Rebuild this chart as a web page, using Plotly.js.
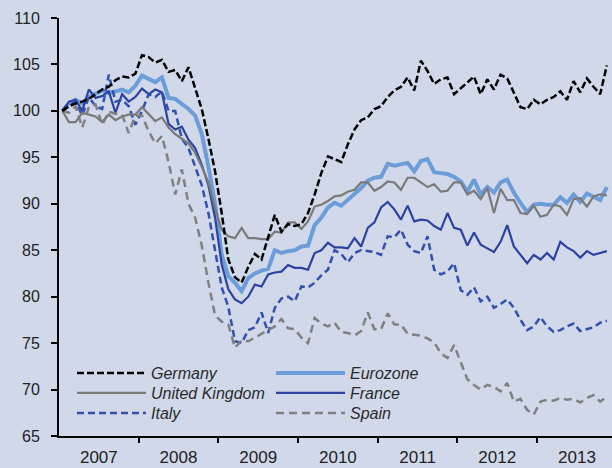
<!DOCTYPE html>
<html>
<head>
<meta charset="utf-8">
<script src="https://cdn.plot.ly/plotly-3.0.1.min.js"></script>
<style>
  html, body { margin: 0; padding: 0; background: #d0d8ea; }
  #chart { width: 612px; height: 468px; }
</style>
</head>
<body>
<div id="chart"></div>
<script>
// Monthly index values, Jan 2007 = 100, from Jan 2007 to Nov 2013
const startYear = 2007;
const yearLabels = ['2007', '2008', '2009', '2010', '2011', '2012', '2013'];
const yTicks = [65, 70, 75, 80, 85, 90, 95, 100, 105, 110];

const germany = [100, 100.5, 100.8, 101, 101.3, 101.8, 102.3, 102.6, 103.3, 103.7, 103.6, 104,
  106, 105.8, 105.2, 105.5, 104.2, 104.4, 103.2, 104.7, 102.5, 100.2, 97, 93.5,
  89, 84, 82.1, 81.5, 83.2, 84.6, 84, 86.5, 88.8, 87, 87.8, 87.6,
  87.8, 89, 91, 93.3, 95.1, 94.8, 94.5, 96.4, 98, 99, 99.3, 100.2,
  100.5, 101.5, 102.2, 102.6, 103.6, 102.2, 105.4, 104.3, 102.9, 103.4, 103.6, 101.8,
  102.4, 103, 103.7, 101.8, 103.4, 102.3, 103.9, 103.5, 102, 100.4, 100.2, 101.2,
  100.7, 101.2, 101.5, 102.1, 101.2, 103.2, 102, 103.5, 102.6, 101.8, 104.9];

const eurozone = [100, 100.8, 101.2, 100.8, 101.5, 101.8, 102.2, 101.9, 102.1, 102.3, 102, 102.7,
  103.8, 103.5, 103.1, 103.6, 101.4, 101.3, 100.8, 100.2, 99.5, 97.5, 94, 90,
  84.5, 82.2, 81.5, 80.6, 82, 82.5, 82.8, 83, 85, 84.7, 84.9, 85,
  85.4, 85.5, 87.7, 88.5, 89.6, 90.1, 89.8, 90.4, 91, 91.7, 92.5, 92.8,
  92.9, 94.3, 94.1, 94.3, 94.4, 93.5, 94.6, 94.8, 93.4, 93.3, 93.2, 92.9,
  92.4, 91.3, 92.6, 91, 91.8, 91.2, 92.3, 92.6, 91.2, 90.1, 89.1, 89.9,
  90, 89.9, 89.9, 90.7, 90.1, 91, 90.2, 91.1, 90.8, 90.4, 91.8];

const unitedKingdom = [100, 98.8, 98.8, 99.8, 99.6, 99.4, 98.8, 99.6, 99, 99.4, 99.6, 99.6,
  100.4, 99.6, 98.9, 99.3, 98.2, 97.5, 97, 96.5, 95.5, 94, 92.3, 89.5,
  87.2, 86.5, 86.3, 87.4, 86.3, 86.3, 86.2, 86.2, 87, 86.9, 88, 88,
  87.3, 88.1, 89.7, 89.9, 90.3, 90.8, 90.9, 91.3, 91.5, 92.3, 92.3, 91.4,
  91.8, 92.4, 92.3, 91.5, 92.8, 92.8, 92.3, 91.8, 92.1, 91.3, 91.4, 92.3,
  92.3, 91, 91.4, 90.5, 91.7, 89, 91.6, 90.4, 90.4, 89, 88.9, 89.8,
  88.6, 88.8, 89.9, 89.7, 88.8, 90.5, 90.6, 89.7, 90.8, 91, 90.9];

const france = [100, 101, 101.2, 100, 102.3, 101.4, 101.6, 102.1, 99.8, 101.8, 101, 101.5,
  102.4, 101.8, 102.3, 102, 98.6, 98, 98.3, 96.9, 96, 94.2, 92, 88.5,
  83.5, 80.8, 79.7, 79.3, 80, 81.3, 81.1, 82.4, 82.6, 82.7, 83.4, 83.1,
  83.1, 82.9, 84.7, 85, 85.8, 85.3, 85.3, 85.2, 86.3, 85.4, 87.4, 88,
  89.6, 90.2, 89.4, 88.3, 89.8, 88.1, 88.3, 88.2, 87.6, 87.2, 89, 87.4,
  87.2, 85.5, 86.9, 85.6, 85.2, 84.8, 85.9, 87.7, 85.4, 84.5, 83.6, 84.5,
  84, 84.7, 84, 85.9, 85.3, 84.9, 84.2, 84.9, 84.5, 84.7, 84.9];

const italy = [100, 100.5, 101, 99.5, 101.5, 100.5, 100.2, 103.9, 101, 101.2, 100.5, 98.5,
  100, 101.8, 101.5, 102.1, 100, 100, 97, 96, 94, 92, 89, 85,
  81, 78.9, 75.2, 75, 76.4, 76.7, 78.3, 76.1, 78.8, 79.8, 80, 79.5,
  81.1, 81, 81.5, 82.3, 82.9, 85, 84.6, 83.7, 84.7, 85, 84.9, 84.8,
  84.5, 86.5, 86.4, 87.2, 85.6, 84.9, 84.7, 86.5, 82.9, 82.4, 82.7, 83.6,
  80.7, 80.2, 81, 79.5, 80, 78.8, 79.2, 79.7, 78.8, 77.5, 76.4, 76.8,
  77.8, 76.8, 76.2, 76.4, 76.8, 77.1, 76.3, 76.5, 76.7, 77.2, 77.4];

const spain = [100, 99.8, 100.5, 98.2, 100.4, 100.7, 98.5, 99.9, 99.7, 99.6, 97.6, 99.5,
  99.5, 97.8, 96.5, 97.3, 94.5, 91, 93.7, 90, 88.5, 85.5, 81.5, 78,
  77.3, 77, 74.5, 75.3, 75.2, 75.6, 76, 76.4, 76.8, 77.6, 76.6, 76.5,
  75.6, 75, 77.7, 77.1, 76.8, 77.2, 76.2, 76.1, 75.8, 76.3, 78.3, 76.5,
  76.5, 78.2, 77, 77, 76, 75.9, 75.8, 75.5, 75.1, 73.9, 73.4, 74.8,
  73, 71.1, 70.5, 70, 70.5, 70.3, 69.8, 70.7, 68.7, 69, 67.8, 67.3,
  68.7, 68.9, 68.8, 69.1, 68.9, 69, 68.6, 69.1, 69.4, 68.7, 69.2];

// month positions (mid-month, in fractional years)
const xMonths = germany.map((_, i) => startYear + (i + 0.5) / 12);

const FONT = 'Liberation Sans, Arial, sans-serif';

function tr(name, y, color, width, dash, legend, rank) {
  return {
    type: 'scatter', mode: 'lines', name: name, x: xMonths, y: y,
    line: { color: color, width: width, dash: dash },
    legend: legend, legendrank: rank, hoverinfo: 'skip'
  };
}

const data = [
  tr('Eurozone', eurozone, '#6d9dd9', 4, 'solid', 'legend', 2),
  tr('France', france, '#2c43a0', 2.2, 'solid', 'legend2', 2),
  tr('Italy', italy, '#3350ad', 2.5, '7px,4px', 'legend3', 1),
  tr('Spain', spain, '#808080', 2.5, '8px,5px', 'legend3', 2),
  tr('United Kingdom', unitedKingdom, '#7a7a7a', 2.2, 'solid', 'legend2', 1),
  tr('Germany', germany, '#000000', 2.5, '7px,3px', 'legend', 1)
];

const legendFont = { family: FONT, size: 16, color: '#2a2a2a', style: 'italic' };
function leg(y) {
  return {
    orientation: 'h', x: 0.0235, xanchor: 'left', y: y, yanchor: 'middle',
    bgcolor: 'rgba(0,0,0,0)', borderwidth: 0, font: legendFont,
    itemwidth: 69, entrywidth: 115, traceorder: 'normal', itemclick: false
  };
}

const layout = {
  width: 612, height: 468,
  margin: { l: 59, r: 0, t: 18, b: 32 },
  paper_bgcolor: '#d0d8ea', plot_bgcolor: '#d0d8ea',
  showlegend: true,
  legend: leg(0.1507),
  legend2: leg(0.1029),
  legend3: leg(0.055),
  xaxis: {
    range: [startYear, startYear + 6.94],
    showgrid: false, zeroline: false,
    showline: true, linecolor: '#000', linewidth: 2,
    tickvals: yearLabels.map((_, i) => startYear + i + 0.5),
    ticktext: yearLabels,
    ticks: '', ticklabelstandoff: 5,
    tickfont: { family: FONT, size: 17, color: '#222' },
    minor: {
      tickvals: yearLabels.slice(1).map((_, i) => startYear + i + 1),
      ticks: 'outside', ticklen: 5, tickwidth: 2, tickcolor: '#000', showgrid: false
    }
  },
  yaxis: {
    range: [65, 110],
    showgrid: false, zeroline: false,
    showline: true, linecolor: '#000', linewidth: 2,
    tickvals: yTicks, ticks: 'outside', ticklen: 6, tickwidth: 2, tickcolor: '#000',
    ticklabelstandoff: 8,
    tickfont: { family: FONT, size: 16, color: '#222' }
  }
};

Plotly.newPlot('chart', data, layout, { staticPlot: true, displayModeBar: false });
</script>
</body>
</html>
